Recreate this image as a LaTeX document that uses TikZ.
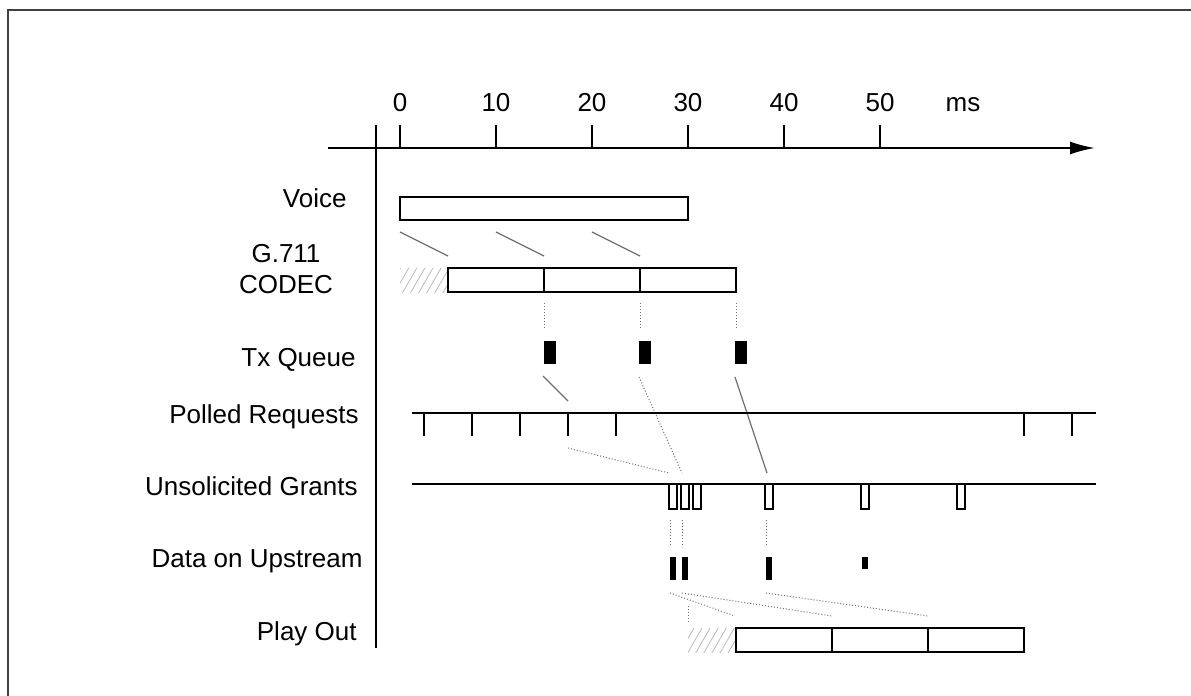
\documentclass[tikz,border=0pt]{standalone}
\usepackage{fontspec}
\setmainfont{Liberation Sans}
\usetikzlibrary{arrows.meta,patterns.meta}
\definecolor{linkGray}{RGB}{110,110,110}

\begin{document}
\begin{tikzpicture}[x=0.5pt,y=-0.5pt,
    lab/.style={font=\fontsize{13}{15.6}\selectfont, inner sep=0pt},
    bar/.style={draw, line width=1pt},
    hatch/.style={pattern={Lines[angle=60,distance=3.5pt,line width=0.4pt]}, pattern color=gray!55},
    link/.style={linkGray, line width=0.6pt},
    dots/.style={linkGray, line width=0.5pt, densely dotted}]
        \useasboundingbox (0,0) rectangle (1191,696);
        % frame, cut off at right and bottom
        \draw[black!75, line width=1pt] (8,696) -- (8,10) -- (1191,10);
        % time axis
        \draw[line width=1pt, -{Latex[length=12.5pt,width=6.5pt]}] (328,148) -- (1095,148);
        \draw[line width=1pt] (376,125) -- (376,648);
        \foreach \t in {0,10,...,50}
          \draw[line width=1pt] ({400+9.6*\t},125) -- ({400+9.6*\t},148)
            node[lab, anchor=base] (t\t) at ({400+9.6*\t},112) {\t};
        \node[lab, anchor=base] (unit) at (963,112) {ms};
        % row labels
        \node[lab, anchor=base east] (voice) at (347,207) {Voice};
        \node[lab, anchor=base] (codecA) at (286,262) {G.711};
        \node[lab, anchor=base] (codecB) at (286,293) {CODEC};
        \node[lab, anchor=base east] (txq) at (356,366) {Tx Queue};
        \node[lab, anchor=base east] (polled) at (359,423) {Polled Requests};
        \node[lab, anchor=base east] (grants) at (358,495) {Unsolicited Grants};
        \node[lab, anchor=base east] (upstream) at (363,567) {Data on Upstream};
        \node[lab, anchor=base east] (playout) at (357,640) {Play Out};
        % voice: 0..30 ms
        \draw[bar] (400,197) rectangle (688,220);
        \foreach \x in {400,496,592}
          \draw[link] (\x,232) -- (\x+48,256);
        % codec frames, 5 ms delay
        \fill[hatch] (400,268) rectangle (448,292);
        \draw[bar] (448,268) rectangle (736,292);
        \foreach \x in {544,640} \draw[bar] (\x,268) -- (\x,292);
        \foreach \x in {544,640,736} \draw[dots] (\x,303) -- (\x,328);
        % tx queue packets
        \foreach \x in {544,639,735} \fill (\x,341) rectangle +(12,23);
        \draw[link] (543,376) -- (568,401);
        \draw[dots] (639,377) -- (682,473);
        \draw[link] (735,377) -- (767,473);
        % polled requests
        \draw[line width=1pt] (412,413) -- (1096,413);
        \foreach \x in {424,472,520,568,616,1024,1072}
          \draw[line width=1pt] (\x,413) -- (\x,436);
        \draw[dots] (568,448) -- (669,473);
        % unsolicited grants
        \draw[line width=1pt] (412,484) -- (1096,484);
        \foreach \x in {669,681,693,765,861,957}
          \draw[bar] (\x,484) rectangle +(8,25);
        \foreach \x in {670,682,766} \draw[dots] (\x,520) -- (\x,545);
        % data on upstream
        \foreach \x in {670,682,766} \fill (\x,557) rectangle +(6,23);
        \fill (862,557) rectangle (868,569);
        \draw[dots] (670,593) -- (735,616);
        \draw[dots] (682,593) -- (832,616);
        \draw[dots] (766,593) -- (928,616);
        \draw[dots] (688,606) -- (688,623);
        % play out
        \fill[hatch] (688,628) rectangle (736,652);
        \draw[bar] (736,628) rectangle (1024,652);
        \foreach \x in {832,928} \draw[bar] (\x,628) -- (\x,652);
      \end{tikzpicture}
\end{document}
